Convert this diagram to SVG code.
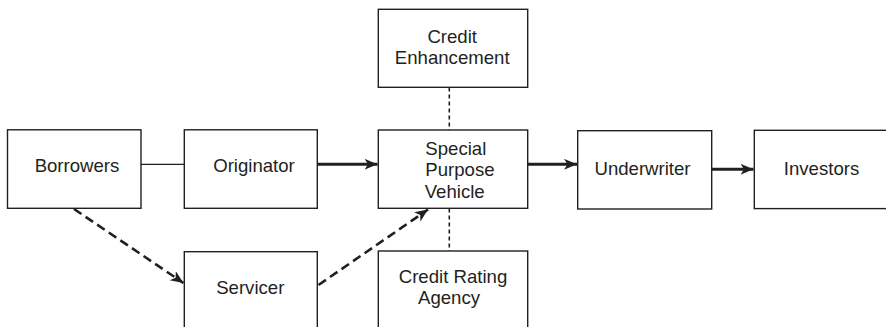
<svg xmlns="http://www.w3.org/2000/svg" width="886" height="327" viewBox="0 0 886 327">
<style>
.box{fill:#fff;stroke:#231f20;stroke-width:1.4}
.t{font-family:"Liberation Sans",Arial,sans-serif;font-size:18.6px;fill:#231f20}
.c{text-anchor:middle}
.thick{stroke:#231f20;stroke-width:3;fill:none}
.thin{stroke:#231f20;stroke-width:1.2;fill:none}
.dash{stroke:#231f20;stroke-width:2.6;fill:none;stroke-dasharray:9 5}
.dot{stroke:#231f20;stroke-width:1.6;fill:none;stroke-dasharray:4 3}
</style>
<defs>
<marker id="ah" markerUnits="userSpaceOnUse" markerWidth="14" markerHeight="12" refX="13" refY="5.5" orient="auto">
<path d="M0,0 L13,5.5 L0,11 L3.5,5.5 z" fill="#231f20"/>
</marker>
</defs>
<rect width="886" height="327" fill="#fff"/>
<g id="connectors">
<line class="thin" x1="141" y1="164.3" x2="184.3" y2="164.3"/>
<line class="thick" x1="317.5" y1="164.3" x2="377.5" y2="164.3" marker-end="url(#ah)"/>
<line class="thick" x1="528" y1="164.3" x2="577" y2="164.3" marker-end="url(#ah)"/>
<line class="thick" x1="712" y1="169.3" x2="753.5" y2="169.3" marker-end="url(#ah)"/>
<line class="dot" x1="449.3" y1="87.5" x2="449.3" y2="130"/>
<line class="dot" x1="449.3" y1="208.5" x2="449.3" y2="251"/>
<line class="dash" x1="74" y1="209" x2="183.5" y2="283" marker-end="url(#ah)"/>
<line class="dash" x1="318.5" y1="285" x2="428" y2="209.5" marker-end="url(#ah)"/>
</g>
<g id="borrowers">
<rect class="box" x="7.5" y="129.8" width="133.5" height="78.5"/>
<text class="t c" x="77" y="172.3">Borrowers</text>
</g>
<g id="originator">
<rect class="box" x="184.3" y="129.8" width="133" height="78.5"/>
<text class="t c" x="254" y="172.3">Originator</text>
</g>
<g id="credit-enhancement">
<rect class="box" x="378.3" y="9.3" width="149.4" height="78"/>
<text class="t c" x="452.2" y="42.7">Credit</text>
<text class="t c" x="452.2" y="64.3">Enhancement</text>
</g>
<g id="spv">
<rect class="box" x="378.3" y="130" width="149.4" height="78.3"/>
<text class="t" x="425.3" y="155">Special</text>
<text class="t" x="425.3" y="176.3">Purpose</text>
<text class="t" x="424.7" y="198.3">Vehicle</text>
</g>
<g id="credit-rating-agency">
<rect class="box" x="378.3" y="251" width="149.4" height="90"/>
<text class="t c" x="453" y="282.7">Credit Rating</text>
<text class="t" x="418" y="304.3">Agency</text>
</g>
<g id="servicer">
<rect class="box" x="184.3" y="251.7" width="133" height="90"/>
<text class="t c" x="250.3" y="294.3">Servicer</text>
</g>
<g id="underwriter">
<rect class="box" x="577.7" y="130.7" width="134" height="78.3"/>
<text class="t c" x="642.5" y="175">Underwriter</text>
</g>
<g id="investors">
<rect class="box" x="754.3" y="130.3" width="140" height="78.3"/>
<text class="t c" x="821.5" y="175">Investors</text>
</g>
</svg>
